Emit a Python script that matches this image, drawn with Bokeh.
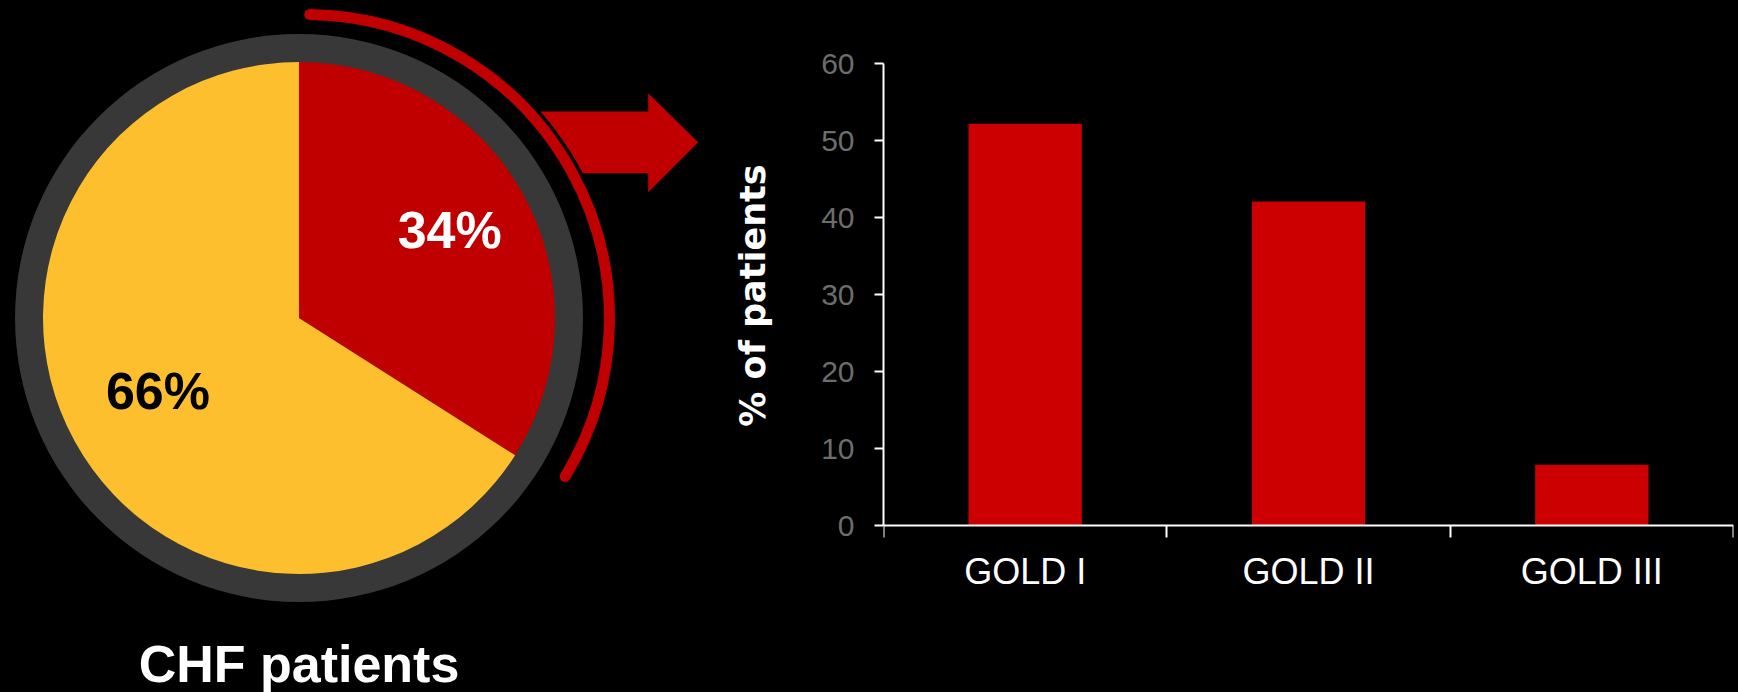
import numpy as np
from bokeh.plotting import figure
from bokeh.layouts import row
from bokeh.models import Range1d, FixedTicker
from bokeh.core.properties import value
from bokeh.embed import file_html
from bokeh.resources import INLINE

# ---------------- data ----------------
pie_labels = ["34%", "66%"]
pie_values = [34, 66]
pie_colors = ["#C00000", "#FDBF2D"]
pie_text_colors = ["#FFFFFF", "#000000"]
pie_caption = "CHF patients"

categories = ["GOLD I", "GOLD II", "GOLD III"]
pct_patients = [52.2, 42.1, 7.9]
y_ticks = [0, 10, 20, 30, 40, 50, 60]
y_label = "% of patients"

# ---------------- layout ----------------
PAGE_W, PAGE_H = 1738, 692
W_LEFT = 780
W_RIGHT = PAGE_W - W_LEFT
FONT = "Liberation Sans"


def py(y):
    # page y (from top) -> data y of left panel
    return PAGE_H - y


left = figure(width=W_LEFT, height=PAGE_H, x_range=Range1d(0, W_LEFT), y_range=Range1d(0, PAGE_H),
              output_backend="svg", toolbar_location=None,
              x_axis_location=None, y_axis_location=None, min_border=0,
              background_fill_color="black", border_fill_color="black",
              outline_line_color=None)
left.grid.visible = False

cx, cy = 298.5, py(317.5)
R_PIE, R_RING = 256, 284

vals = np.array(pie_values, dtype=float)
frac = vals / vals.sum()
cum = np.cumsum(frac)
start = np.pi / 2 - 2 * np.pi * (cum - frac)
end = np.pi / 2 - 2 * np.pi * cum

left.annulus(x=cx, y=cy, inner_radius=R_PIE - 4, outer_radius=R_RING,
             fill_color="#383838", line_color=None)
left.wedge(x=cx, y=cy, radius=R_PIE, start_angle=start, end_angle=end,
           direction="clock", fill_color=pie_colors, line_color=None)

mid = (start + end) / 2
label_r = np.array([172, 161])
left.text(x=cx + label_r * np.cos(mid), y=cy + label_r * np.sin(mid) + 5, text=pie_labels,
          text_color=pie_text_colors, text_font=value(FONT), text_font_style="bold",
          text_font_size="52px", text_align="center", text_baseline="middle")

left.text(x=[cx], y=[py(663)], text=[pie_caption], text_color="white",
          text_font=value(FONT), text_font_style="bold", text_font_size="52px",
          text_align="center", text_baseline="alphabetic")

# arrow
acx, acy_page = 305.0, 318.0
R_SHAFT = 313.0
ys_edge = np.linspace(172.7, 111.0, 16)
xs_edge = acx + np.sqrt(R_SHAFT ** 2 - (acy_page - ys_edge) ** 2)
ax = [xs_edge[-1], 647.7, 647.7, 697.7, 647.7, 647.7] + list(xs_edge)
ay = [111.0, 111.0, 92.7, 141.7, 191.7, 172.7] + list(ys_edge)
left.patch(x=ax, y=[py(v) for v in ay], fill_color="#C00000", line_color=None)

# red arc
left.arc(x=acx, y=py(acy_page), radius=304, start_angle=np.radians(89.2),
         end_angle=np.radians(-31.3), direction="clock", line_color="#C00000",
         line_width=11, line_cap="round")

# y-axis title of the bar chart (sits just left of its axis)
left.text(x=[752], y=[py(295)], text=[y_label], angle=np.pi / 2,
          text_align="center", text_baseline="middle", text_color="white",
          text_font=value("DejaVu Sans"), text_font_style="bold", text_font_size="35px")

# ---------------- bar chart ----------------
Y0_PAGE, YTOP_PAGE, YTOP_VAL = 525.0, 63.3, 60.0
k = (Y0_PAGE - YTOP_PAGE) / YTOP_VAL
y_start = -(PAGE_H - Y0_PAGE) / k
y_end = Y0_PAGE / k
FRAME_L, FRAME_R = 883, PAGE_W - 5

right = figure(width=W_RIGHT, height=PAGE_H, x_range=Range1d(0, len(categories)),
               y_range=Range1d(y_start, y_end), output_backend="svg", toolbar_location=None,
               min_border_left=FRAME_L - W_LEFT, min_border_right=PAGE_W - FRAME_R,
               min_border_top=0, min_border_bottom=0, background_fill_color="black",
               border_fill_color="black", outline_line_color=None)
right.grid.visible = False

xpos = np.arange(len(categories)) + 0.5
right.vbar(x=xpos, top=pct_patients, width=0.4, fill_color="#CC0000", line_color=None)

xa = right.xaxis[0]
xa.fixed_location = 0
xa.ticker = FixedTicker(ticks=list(xpos), minor_ticks=list(range(len(categories) + 1)))
xa.major_label_overrides = {float(x): c for x, c in zip(xpos, categories)}
xa.major_tick_line_color = None
xa.major_tick_out = 0
xa.major_tick_in = 0
xa.minor_tick_out = 12
xa.minor_tick_in = 0
xa.minor_tick_line_color = "white"
xa.minor_tick_line_width = 2
xa.axis_line_color = "white"
xa.axis_line_width = 2
xa.major_label_text_color = "white"
xa.major_label_text_font = FONT
xa.major_label_text_font_size = "36px"
xa.major_label_standoff = 13

ya = right.yaxis[0]
ya.bounds = (0, 60)
ya.ticker = FixedTicker(ticks=y_ticks, minor_ticks=[])
ya.major_tick_out = 9
ya.major_tick_in = 0
ya.major_tick_line_color = "white"
ya.major_tick_line_width = 2
ya.minor_tick_line_color = None
ya.axis_line_color = "white"
ya.axis_line_width = 2
ya.major_label_text_color = "#6D6D6D"
ya.major_label_text_font = FONT
ya.major_label_text_font_size = "30px"
ya.major_label_standoff = 20

layout = row(left, right, spacing=0)
layout.styles = {"background-color": "black"}

html = file_html(layout, INLINE)
html = html.replace("<body>", '<body style="background-color:#000000;">', 1)
open("out.html", "w").write(html)
